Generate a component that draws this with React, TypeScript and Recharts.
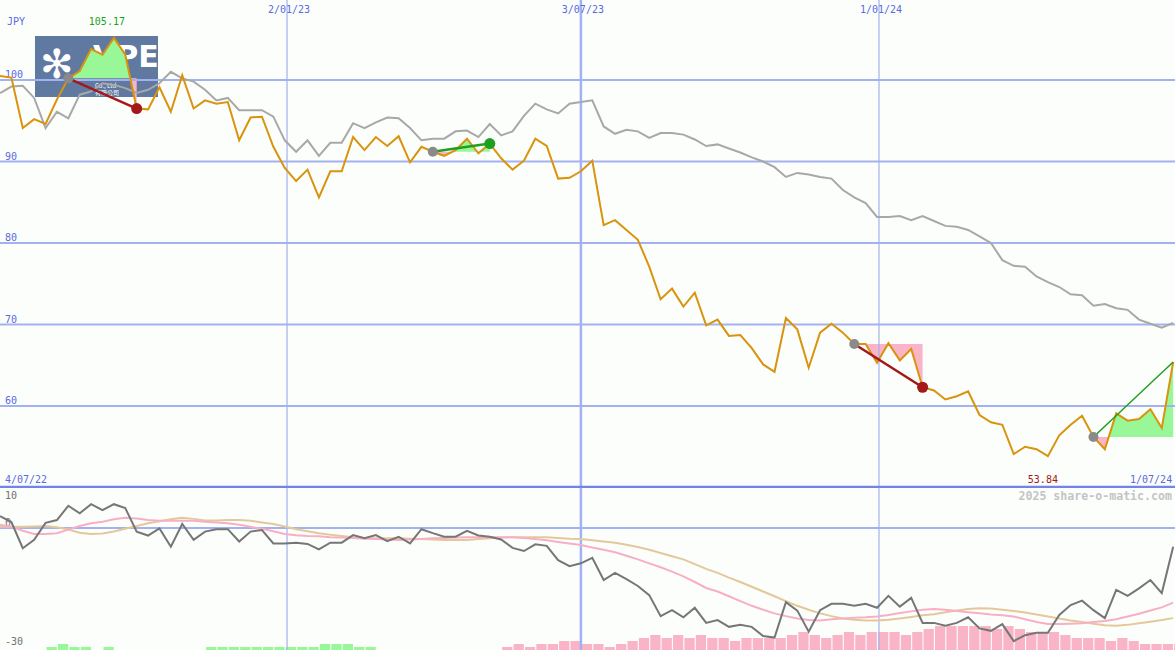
import React from 'react';
import { ComposedChart, Line, Area, Bar, XAxis, YAxis, ReferenceLine, ReferenceDot } from 'recharts';

const MONO = '"DejaVu Sans Mono", monospace';
const BLUE = '#5a6ae0';
const GRID = '#a3b1f0';
const UP_FILL = '#98f898';
const DOWN_FILL = '#f9b4c8';

// weekly close, JPY
const price = [
  100.5, 100.3, 94.1, 95.2, 94.6, 97.6, 100.2, 101.1, 103.8, 103.1,
  105.17, 103.1, 96.5, 96.4, 99.1, 96.1, 100.6, 96.5, 97.5, 97.1,
  97.3, 92.6, 95.4, 95.5, 91.8, 89.2, 87.6, 89.0, 85.6, 88.8,
  88.8, 93.0, 91.4, 93.0, 91.9, 93.1, 89.9, 91.8, 91.2, 90.7,
  91.4, 92.8, 91.0, 92.2, 90.4, 89.0, 90.1, 92.8, 91.9, 87.9,
  88.0, 88.8, 90.1, 82.2, 82.8, 81.6, 80.4, 77.1, 73.1, 74.4,
  72.2, 73.9, 69.9, 70.6, 68.6, 68.7, 67.1, 65.1, 64.2, 70.8,
  69.4, 64.7, 69.0, 70.1, 69.0, 67.6, 67.6, 65.3, 67.7, 65.6,
  67.0, 62.3, 61.9, 60.8, 61.2, 61.8, 58.9, 58.0, 57.7, 54.1,
  55.0, 54.7, 53.84, 56.4, 57.7, 58.8, 56.2, 54.7, 59.1, 58.2,
  58.4, 59.6, 57.3, 65.4,
];

// relative-to-index line (grey)
const relative = [
  98.4, 99.2, 99.3, 97.8, 94.1, 96.1, 95.3, 98.2, 98.6, 99.6,
  99.4, 99.0, 98.4, 98.8, 99.6, 101.0, 100.2, 99.8, 98.8, 97.5,
  97.8, 96.3, 96.3, 96.3, 95.5, 92.6, 91.2, 92.6, 90.7, 92.3,
  92.3, 94.7, 94.1, 94.8, 95.4, 95.3, 94.1, 92.6, 92.8, 92.8,
  93.7, 93.8, 93.0, 94.6, 93.2, 93.7, 95.6, 97.1, 96.4, 95.9,
  97.1, 97.3, 97.5, 94.3, 93.4, 93.9, 93.7, 92.9, 93.5, 93.5,
  93.3, 92.7, 91.9, 92.1, 91.6, 91.1, 90.5, 90.0, 89.3, 88.1,
  88.6, 88.4, 88.1, 87.9, 86.5, 85.6, 84.9, 83.2, 83.2, 83.3,
  82.8, 83.3, 82.7, 82.1, 82.0, 81.6, 80.8, 80.0, 77.9, 77.2,
  77.1, 75.9, 75.2, 74.6, 73.7, 73.6, 72.3, 72.5, 72.0, 71.8,
  70.6, 70.1, 69.6, 70.2,
];

// lower panel oscillator
const momentum = [
  3.0, 1.5, -5.1, -3.0, 1.3, 2.0, 5.6, 3.7, 6.0, 4.5,
  6.0, 5.0, -0.9, -1.9, -0.1, -4.7, 1.0, -3.0, -0.9, -0.3,
  -0.3, -3.4, -0.9, -0.5, -3.9, -3.9, -3.7, -4.0, -5.4, -3.7,
  -3.7, -1.8, -2.6, -1.8, -3.3, -2.2, -3.9, -0.3, -1.3, -2.2,
  -2.2, -0.7, -1.9, -2.2, -2.9, -5.0, -5.8, -4.1, -4.5, -8.1,
  -9.6, -8.9, -7.5, -13.1, -11.3, -12.9, -14.6, -16.9, -22.2, -20.7,
  -22.5, -20.1, -23.9, -23.2, -24.9, -24.4, -24.9, -27.2, -27.6, -18.7,
  -20.8, -26.1, -20.7, -19.1, -19.1, -19.6, -19.1, -20.1, -17.1, -19.8,
  -17.6, -23.9, -23.9, -24.6, -23.9, -22.5, -25.3, -25.9, -24.2, -28.5,
  -27.0, -26.4, -26.4, -21.9, -19.4, -18.3, -20.7, -22.7, -15.6, -17.1,
  -15.2, -13.1, -16.4, -4.7,
];

const maFast = [
  0.8, 0.3, -0.7, -1.5, -1.5, -1.3, -0.4, 0.5, 1.2, 1.6,
  2.2, 2.6, 2.4, 2.0, 1.8, 1.8, 1.8, 1.8, 1.6, 1.4,
  1.2, 0.8, 0.3, -0.2, -0.8, -1.5, -1.8, -2.0, -2.1, -2.3,
  -2.4, -2.5, -2.7, -2.8, -2.9, -3.0, -2.9, -2.8, -2.6, -2.5,
  -2.4, -2.3, -2.3, -2.3, -2.3, -2.3, -2.5, -2.8, -3.1, -3.5,
  -3.9, -4.3, -4.9, -5.5, -6.1, -7.0, -7.9, -8.9, -9.9, -11.0,
  -12.2, -13.6, -15.1, -16.0, -17.2, -18.4, -19.6, -20.6, -21.5, -22.2,
  -22.8, -23.2, -23.3, -23.0, -22.8, -22.6, -22.5, -22.3, -21.9, -21.4,
  -21.0, -20.6, -20.4, -20.6, -20.9, -21.2, -21.5, -21.8, -22.0, -22.3,
  -23.0, -23.7, -24.2, -24.2, -24.1, -24.0, -23.7, -23.4, -23.0, -22.3,
  -21.6, -20.8, -20.0, -18.8,
];

const maSlow = [
  0.3, 0.3, 0.3, 0.4, 0.5, 0.2, -0.4, -1.2, -1.5, -1.4,
  -0.9, -0.2, 0.5, 1.2, 1.7, 2.2, 2.6, 2.3, 1.9, 1.9,
  2.0, 2.0, 1.8, 1.4, 1.0, 0.4, -0.3, -0.8, -1.3, -1.7,
  -2.0, -2.3, -2.5, -2.6, -2.6, -2.6, -2.7, -2.8, -2.9, -3.0,
  -3.0, -3.0, -2.8, -2.6, -2.4, -2.3, -2.3, -2.3, -2.3, -2.5,
  -2.7, -2.8, -3.1, -3.4, -3.7, -4.2, -4.8, -5.5, -6.3, -7.1,
  -7.9, -9.1, -10.3, -11.3, -12.5, -13.6, -14.8, -16.0, -17.2, -18.4,
  -19.6, -20.6, -21.5, -22.2, -22.8, -23.1, -23.3, -23.3, -23.1, -22.8,
  -22.4, -22.0, -21.7, -21.2, -20.8, -20.4, -20.2, -20.3, -20.6, -20.9,
  -21.3, -21.8, -22.3, -22.8, -23.3, -23.7, -24.1, -24.5, -24.6, -24.4,
  -24.0, -23.6, -23.2, -22.7,
];

// histogram levels at the foot of the lower panel
const upBars = [
  0, 0, 0, 0, 1, 2, 1, 1, 0, 1,
  0, 0, 0, 0, 0, 0, 0, 0, 1, 1,
  1, 1, 1, 1, 1, 1, 1, 1, 2, 2,
  2, 1, 1, 0, 0, 0, 0, 0, 0, 0,
  0, 0, 0, 0, 0, 0, 0, 0, 0, 0,
  0, 0, 0, 0, 0, 0, 0, 0, 0, 0,
  0, 0, 0, 0, 0, 0, 0, 0, 0, 0,
  0, 0, 0, 0, 0, 0, 0, 0, 0, 0,
  0, 0, 0, 0, 0, 0, 0, 0, 0, 0,
  0, 0, 0, 0, 0, 0, 0, 0, 0, 0,
  0, 0, 0, 0,
];
const downBars = [
  0, 0, 0, 0, 0, 0, 0, 0, 0, 0,
  0, 0, 0, 0, 0, 0, 0, 0, 0, 0,
  0, 0, 0, 0, 0, 0, 0, 0, 0, 0,
  0, 0, 0, 0, 0, 0, 0, 0, 0, 0,
  0, 0, 0, 0, 1, 2, 1, 2, 2, 3,
  3, 2, 2, 1, 2, 3, 4, 5, 4, 5,
  4, 5, 4, 4, 3, 4, 4, 4, 4, 5,
  6, 5, 4, 5, 6, 5, 6, 6, 6, 5,
  6, 7, 8, 8, 8, 8, 8, 7, 8, 7,
  6, 6, 6, 5, 4, 4, 4, 3, 4, 3,
  2, 2, 2, 2,
];

const priceTicks = [100, 90, 80, 70, 60];
const dateLines = [
  { x: 25.2, label: '2/01/23', w: 1.2 },
  { x: 51.0, label: '3/07/23', w: 2.5 },
  { x: 77.17, label: '1/01/24', w: 1.2 },
];
const startDate = '4/07/22';
const endDate = '1/07/24';
const currency = 'JPY';
const credit = '2025 share-o-matic.com';
const trends = [
  { s: 6, e: 12, endDot: true, w: 2.5 },
  { s: 38, e: 43, endDot: true, w: 2.5 },
  { s: 75, e: 81, endDot: true, w: 2.5 },
  { s: 96, e: 103, endDot: false, w: 1.5 },
];

const mainData = price.map((p, i) => ({ x: i, price: p, rel: relative[i] }));
const lowerData = momentum.map((m, i) => ({
  x: i, mom: m, fast: maFast[i], slow: maSlow[i], up: upBars[i], down: downBars[i],
}));

const X_MAX = 103.16;

function buildFill(s: number, e: number) {
  const base = price[s];
  const pts: { x: number; v: number }[] = [];
  for (let i = s; i <= e; i++) {
    pts.push({ x: i, v: price[i] });
    if (i < e) {
      const a = price[i] - base;
      const b = price[i + 1] - base;
      if (a * b < 0) {
        const t = a / (a - b);
        pts.push({ x: i + t, v: base });
      }
    }
  }
  return {
    up: pts.map((p) => ({ x: p.x, r: [base, Math.max(p.v, base)] })),
    down: pts.map((p) => ({ x: p.x, r: [Math.min(p.v, base), base] })),
  };
}

const TxtLabel = (props: any) => {
  const { viewBox, text, dx = 0, dy = 0, absY, anchor = 'start', color = BLUE, size = 10 } = props;
  if (!viewBox) return null;
  const y = absY !== undefined ? absY : viewBox.y + dy;
  return (
    <text x={viewBox.x + dx} y={y} fill={color} fontSize={size} fontFamily={MONO} textAnchor={anchor}>
      {text}
    </text>
  );
};

export default function App() {
  let maxI = 0;
  let minI = 0;
  price.forEach((p, i) => {
    if (p > price[maxI]) maxI = i;
    if (p < price[minI]) minI = i;
  });
  const fills = trends.map((t) => buildFill(t.s, t.e));

  return (
    <div style={{ position: 'absolute', left: 0, top: 0, width: 1175, height: 650, background: '#fcfefc', overflow: 'hidden' }}>
      <div style={{ position: 'absolute', left: 35, top: 36, width: 123, height: 61, background: '#6079a0', color: '#fff' }}>
        <div style={{ position: 'absolute', left: 5, top: 6, fontSize: 40, lineHeight: '44px', fontFamily: 'DejaVu Sans' }}>✻</div>
        <div style={{ position: 'absolute', left: 58, top: 4, fontSize: 30, lineHeight: '34px', fontWeight: 700, fontFamily: 'DejaVu Sans' }}>VPE</div>
        <div style={{ position: 'absolute', left: 60, top: 46, fontSize: 6, lineHeight: '7px', fontFamily: '"Noto Sans CJK TC"', whiteSpace: 'nowrap' }}>Co., Ltd</div>
        <div style={{ position: 'absolute', left: 60, top: 53, fontSize: 6, lineHeight: '7px', fontFamily: '"Noto Sans CJK TC"', whiteSpace: 'nowrap' }}>有限公司</div>
      </div>

      <div style={{ position: 'absolute', left: 0, top: 0 }}>
        <ComposedChart width={1175} height={488} data={mainData} margin={{ top: 0, right: 0, bottom: 0, left: 0 }}>
          <XAxis dataKey="x" type="number" domain={[0, X_MAX]} hide allowDataOverflow />
          <YAxis type="number" domain={[49.939, 109.816]} hide allowDataOverflow />
          {priceTicks.map((v) => (
            <ReferenceLine key={'g' + v} y={v} stroke={GRID} strokeWidth={2}
              label={<TxtLabel text={String(v)} dx={5} dy={-2} />} />
          ))}
          {dateLines.map((d) => (
            <ReferenceLine key={d.label} x={d.x} stroke={GRID} strokeWidth={d.w}
              label={<TxtLabel text={d.label} dx={2} absY={13} anchor="middle" />} />
          ))}
          <ReferenceLine y={50.06} stroke="#7383e8" strokeWidth={2.5} />
          <ReferenceLine x={0} stroke="none" label={<TxtLabel text={startDate} dx={5} absY={483} />} />
          <ReferenceLine x={103} stroke="none" label={<TxtLabel text={endDate} dx={-1} absY={483} anchor="end" />} />
          {fills.map((f, k) => (
            <Area key={'fu' + k} data={f.up} dataKey="r" type="linear" stroke="none" fill={UP_FILL} fillOpacity={1} isAnimationActive={false} dot={false} activeDot={false} />
          ))}
          {fills.map((f, k) => (
            <Area key={'fd' + k} data={f.down} dataKey="r" type="linear" stroke="none" fill={DOWN_FILL} fillOpacity={1} isAnimationActive={false} dot={false} activeDot={false} />
          ))}
          <Line dataKey="rel" type="linear" stroke="#a8a8a8" strokeWidth={2} dot={false} activeDot={false} isAnimationActive={false} />
          <Line dataKey="price" type="linear" stroke="#d9930d" strokeWidth={2} dot={false} activeDot={false} isAnimationActive={false} />
          {trends.map((t, k) => {
            const up = price[t.e] > price[t.s];
            const c = up ? '#1f9f1f' : '#a31818';
            return (
              <ReferenceLine key={'t' + k} segment={[{ x: t.s, y: price[t.s] }, { x: t.e, y: price[t.e] }]}
                stroke={c} strokeWidth={t.w} ifOverflow="visible" />
            );
          })}
          {trends.map((t, k) => (
            <ReferenceDot key={'sd' + k} x={t.s} y={price[t.s]} r={5} fill="#8a8a8a" stroke="none" />
          ))}
          {trends.filter((t) => t.endDot).map((t, k) => {
            const up = price[t.e] > price[t.s];
            return <ReferenceDot key={'ed' + k} x={t.e} y={price[t.e]} r={5.5} fill={up ? '#1f9f1f' : '#a31818'} stroke="none" />;
          })}
          <ReferenceDot x={maxI} y={price[maxI]} r={0} fill="none" stroke="none"
            label={<TxtLabel text={price[maxI].toFixed(2)} dx={-7} absY={25} anchor="middle" color="#1f9f1f" />} />
          <ReferenceDot x={minI} y={price[minI]} r={0} fill="none" stroke="none"
            label={<TxtLabel text={price[minI].toFixed(2)} dx={-5} absY={483} anchor="middle" color="#a31818" />} />
        </ComposedChart>
      </div>

      <div style={{ position: 'absolute', left: 0, top: 488 }}>
        <ComposedChart width={1175} height={162} data={lowerData} margin={{ top: 0, right: 0, bottom: 0, left: 0 }}>
          <XAxis xAxisId="osc" dataKey="x" type="number" domain={[0, X_MAX]} hide allowDataOverflow />
          <XAxis xAxisId="bars" dataKey="x" type="number" domain={[-0.5, X_MAX - 0.5]} hide allowDataOverflow />
          <YAxis yAxisId="osc" type="number" domain={[-30.73, 10.076]} hide allowDataOverflow />
          <YAxis yAxisId="bars" type="number" domain={[0, 54]} hide allowDataOverflow />
          <ReferenceLine xAxisId="osc" yAxisId="osc" y={0} stroke={GRID} strokeWidth={2}
            label={<TxtLabel text="0" dx={5} dy={-2} color="#707070" />} />
          <ReferenceLine xAxisId="osc" yAxisId="osc" y={10} stroke="none"
            label={<TxtLabel text="10" dx={5} absY={11} color="#707070" />} />
          <ReferenceLine xAxisId="osc" yAxisId="osc" y={-30} stroke="none"
            label={<TxtLabel text="-30" dx={5} dy={-2} color="#707070" />} />
          {dateLines.map((d) => (
            <ReferenceLine key={'l' + d.label} xAxisId="osc" yAxisId="osc" x={d.x} stroke={GRID} strokeWidth={d.w} />
          ))}
          <Bar xAxisId="bars" yAxisId="bars" dataKey="up" stackId="h" fill={UP_FILL} barSize={11.4} isAnimationActive={false} />
          <Bar xAxisId="bars" yAxisId="bars" dataKey="down" stackId="h" fill={DOWN_FILL} barSize={11.4} isAnimationActive={false} />
          <Line xAxisId="osc" yAxisId="osc" dataKey="slow" type="linear" stroke="#e3c99a" strokeWidth={2} dot={false} activeDot={false} isAnimationActive={false} />
          <Line xAxisId="osc" yAxisId="osc" dataKey="fast" type="linear" stroke="#f8afc6" strokeWidth={2} dot={false} activeDot={false} isAnimationActive={false} />
          <Line xAxisId="osc" yAxisId="osc" dataKey="mom" type="linear" stroke="#767676" strokeWidth={2} dot={false} activeDot={false} isAnimationActive={false} />
        </ComposedChart>
      </div>

      <svg width={1175} height={650} style={{ position: 'absolute', left: 0, top: 0, pointerEvents: 'none' }}>
        <text x={7} y={25} fill={BLUE} fontSize={10} fontFamily={MONO}>{currency}</text>
        <text x={1172} y={500} fill="#c4c4c4" fontSize={11.6} fontWeight={700} fontFamily={MONO} textAnchor="end">{credit}</text>
      </svg>
    </div>
  );
}
